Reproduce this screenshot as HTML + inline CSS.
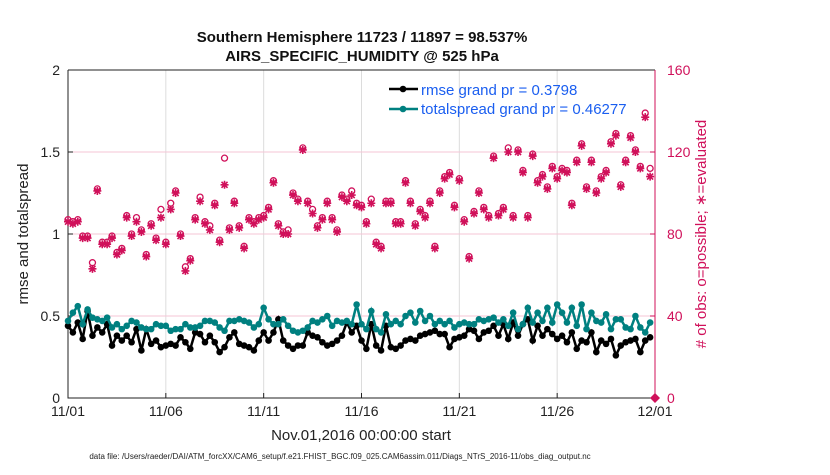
<!DOCTYPE html>
<html><head><meta charset="utf-8"><style>
body{margin:0;background:#fff;font-family:"Liberation Sans",sans-serif}
svg text{font-family:"Liberation Sans",sans-serif}
</style></head><body>
<svg id="c" width="830" height="470" xmlns="http://www.w3.org/2000/svg">
<g id="bg"></g>
</svg>
<script>
const xTickLabels=["11/01","11/06","11/11","11/16","11/21","11/26","12/01"];
const leftTicks=["0","0.5","1","1.5","2"];
const rightTicks=["0","40","80","120","160"];
const totalspread=[0.47,0.52,0.56,0.45,0.54,0.49,0.48,0.47,0.49,0.43,0.45,0.42,0.44,0.47,0.46,0.43,0.42,0.42,0.45,0.44,0.44,0.41,0.42,0.42,0.45,0.43,0.43,0.44,0.47,0.47,0.46,0.43,0.41,0.47,0.47,0.48,0.47,0.46,0.43,0.45,0.55,0.48,0.45,0.45,0.48,0.44,0.41,0.40,0.41,0.43,0.47,0.46,0.48,0.50,0.44,0.47,0.46,0.47,0.45,0.57,0.45,0.42,0.53,0.42,0.40,0.51,0.45,0.47,0.45,0.50,0.52,0.46,0.53,0.47,0.50,0.45,0.47,0.45,0.47,0.43,0.45,0.46,0.45,0.45,0.48,0.47,0.48,0.49,0.46,0.48,0.44,0.52,0.42,0.45,0.55,0.46,0.52,0.47,0.55,0.46,0.57,0.52,0.46,0.55,0.44,0.57,0.42,0.52,0.47,0.46,0.51,0.42,0.48,0.48,0.43,0.42,0.50,0.43,0.40,0.46];
const rmse=[0.44,0.40,0.46,0.36,0.53,0.38,0.43,0.40,0.45,0.32,0.38,0.35,0.38,0.34,0.42,0.29,0.42,0.33,0.35,0.31,0.32,0.33,0.32,0.37,0.34,0.30,0.40,0.39,0.34,0.38,0.34,0.28,0.31,0.37,0.40,0.33,0.32,0.31,0.29,0.35,0.40,0.35,0.40,0.48,0.35,0.32,0.30,0.32,0.32,0.40,0.38,0.37,0.34,0.32,0.33,0.35,0.38,0.46,0.40,0.44,0.35,0.30,0.45,0.32,0.29,0.44,0.31,0.30,0.32,0.35,0.36,0.35,0.38,0.39,0.40,0.41,0.39,0.39,0.31,0.36,0.37,0.38,0.42,0.41,0.36,0.40,0.41,0.44,0.38,0.45,0.36,0.46,0.38,0.45,0.48,0.35,0.44,0.38,0.42,0.39,0.36,0.38,0.34,0.40,0.30,0.35,0.34,0.40,0.28,0.35,0.33,0.36,0.26,0.32,0.34,0.35,0.36,0.28,0.35,0.37];
const obsUsed=[86,85,86,78,78,63,101,75,75,78,70,72,88,79,86,81,69,84,77,88,75,92,100,79,62,67,87,96,85,82,94,76,104,82,95,83,73,87,85,87,88,92,105,84,80,80,99,96,121,95,90,83,87,95,87,81,98,96,99,94,93,85,95,75,73,95,95,85,85,105,95,84,91,88,95,73,100,107,109,93,106,86,68,90,100,92,88,117,89,92,120,88,120,110,88,118,105,108,102,112,107,111,110,94,115,123,102,115,100,107,110,124,128,103,115,127,120,112,137,108];
const obsPossible=[87,86,87,79,79,66,102,76,76,79,71,73,89,80,88,82,70,85,78,92,76,95,101,80,64,68,88,98,86,84,95,77,117,83,96,84,74,88,86,88,89,93,106,85,81,82,100,97,122,96,92,84,88,96,88,82,99,97,101,95,94,86,97,76,74,96,96,86,86,106,96,85,92,89,96,74,101,108,110,94,107,87,69,91,101,93,89,118,90,93,122,89,121,111,89,119,106,109,103,113,108,112,111,95,116,124,103,116,101,108,111,125,129,104,116,128,121,113,139,112];
const X0=68,X1=655,Y0=398,Y1=70;
const xs=d=>X0+(X1-X0)*d/30;
const yl=v=>Y0-(Y0-Y1)*v/2;
const yr=v=>Y0-(Y0-Y1)*v/160;
const NS="http://www.w3.org/2000/svg";
const svg=document.getElementById('c');
function mk(t,a,p){const e=document.createElementNS(NS,t);for(const k in a)e.setAttribute(k,a[k]);(p||svg).appendChild(e);return e;}
// grid
xTickLabels.forEach((l,i)=>{const x=xs(i*5);
 const g=mk('line',{x1:x,x2:x,y1:Y1,y2:Y0,stroke:'#dcdcdc'});
 
 
 const tk=mk('line',{x1:x,x2:x,y1:Y0,y2:Y0-5,stroke:'#222'});
 
 
 const t=mk('text',{x:x,y:Y0+18,'text-anchor':'middle','font-size':14,fill:'#222'});t.textContent=l;
 
 
});
rightTicks.forEach((l,i)=>{const y=yr(+l);
 if(i>0&&i<4){const g=mk('line',{x1:X0,x2:X1,y1:y,y2:y,stroke:'#f4c6d6'});
 
 }
 const t=mk('text',{x:X1+12,y:y+5,'font-size':14,fill:'#d0105a'});t.textContent=l;
 
 
 const tk=mk('line',{x1:X1,x2:X1-5,y1:y,y2:y,stroke:'#d0105a'});
 
 
});
leftTicks.forEach(l=>{const y=yl(+l);
 const t=mk('text',{x:X0-8,y:y+5,'text-anchor':'end','font-size':14,fill:'#222'});t.textContent=l;
 
 
 const tk=mk('line',{x1:X0,x2:X0+5,y1:y,y2:y,stroke:'#222'});
 
 
});
// axes
const ax=mk('path',{d:`M${X0},${Y1}V${Y0}H${X1}M${X0},${Y1}H${X1}`,stroke:'#222',fill:'none'});


const ra=mk('line',{x1:X1,x2:X1,y1:Y1,y2:Y0,stroke:'#d0105a'});


const dayOf=i=>i*0.25;
// obs
obsPossible.forEach((v,i)=>{const c=mk('circle',{cx:xs(dayOf(i)),cy:yr(v),r:3,fill:'none',stroke:'#d0105a','stroke-width':1.3});
 
 });
obsUsed.forEach((v,i)=>{const x=xs(dayOf(i)),y=yr(v);
 const p=mk('path',{d:`M${x-4},${y}H${x+4}M${x},${y-4}V${y+4}M${x-3},${y-3}L${x+3},${y+3}M${x-3},${y+3}L${x+3},${y-3}`,stroke:'#d0105a','stroke-width':1.6});
 
 });
function series(arr,col,name){
 const d=arr.map((v,i)=>(i?'L':'M')+xs(dayOf(i))+','+yl(v)).join('');
 const l=mk('path',{d:d,stroke:col,'stroke-width':2.5,fill:'none'});
 
 
 arr.forEach((v,i)=>{const c=mk('circle',{cx:xs(dayOf(i)),cy:yl(v),r:3.3,fill:col});
 
 });
}
series(rmse,'#000','rmse');
series(totalspread,'#008080','totalspread');
const rp=mk('path',{d:`M${X1-5},${Y0}l5,-5l5,5l-5,5z`,fill:'#d0105a'});


</script>
<svg style="position:absolute;left:0;top:0" width="830" height="470">
<text x="362" y="42" text-anchor="middle" font-size="15" font-weight="bold" fill="#111">Southern Hemisphere 11723 / 11897 = 98.537%</text>
<text x="362" y="61" text-anchor="middle" font-size="15" font-weight="bold" fill="#111">AIRS_SPECIFIC_HUMIDITY @ 525 hPa</text>
<text transform="translate(28,234) rotate(-90)" text-anchor="middle" font-size="15" fill="#222">rmse and totalspread</text>
<text transform="translate(706,234) rotate(-90)" text-anchor="middle" font-size="15" fill="#d0105a"># of obs: o=possible; ∗=evaluated</text>
<text x="361" y="440" text-anchor="middle" font-size="15" fill="#222">Nov.01,2016 00:00:00 start</text>
<text x="340" y="459" text-anchor="middle" font-size="8" fill="#222">data file: /Users/raeder/DAI/ATM_forcXX/CAM6_setup/f.e21.FHIST_BGC.f09_025.CAM6assim.011/Diags_NTrS_2016-11/obs_diag_output.nc</text>
<g>
<line x1="389" x2="418" y1="89" y2="89" stroke="#000" stroke-width="2.5"/><circle cx="403" cy="89" r="3.3" fill="#000"/>
<text x="421" y="95" font-size="15" fill="#1a5ef0">rmse grand pr = 0.3798</text>
<line x1="389" x2="418" y1="109" y2="109" stroke="#008080" stroke-width="2.5"/><circle cx="403" cy="109" r="3.3" fill="#008080"/>
<text x="421" y="114" font-size="15" fill="#1a5ef0">totalspread grand pr = 0.46277</text>
</g>
</svg>
</body></html>
